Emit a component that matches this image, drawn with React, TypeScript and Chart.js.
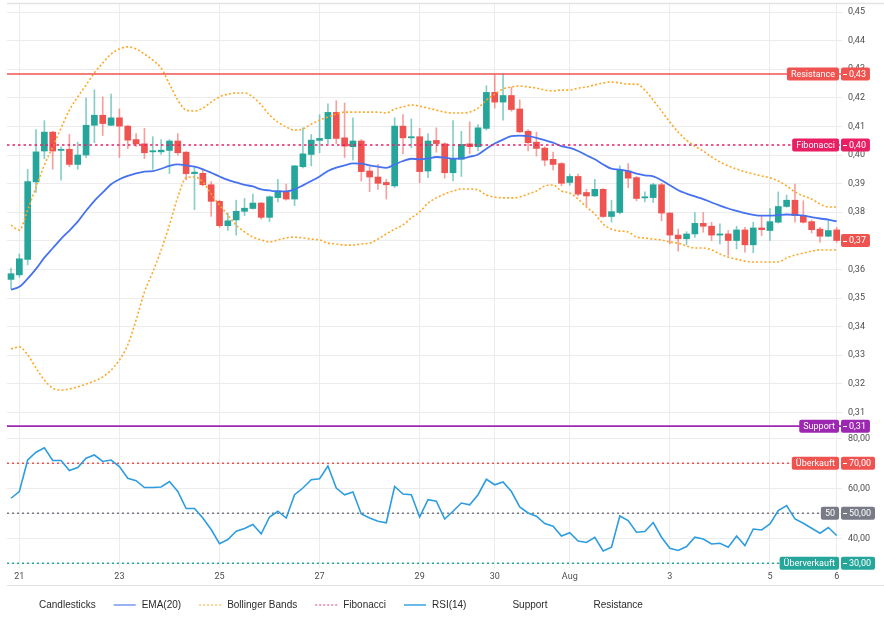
import React, { useEffect, useRef } from 'react';
import { Chart, registerables } from 'chart.js';

Chart.register(...registerables);

// ---------- data ----------
const opens = [
  0.3565, 0.3581, 0.3635, 0.3906, 0.4014, 0.4080, 0.4016, 0.4020, 0.3967, 0.4000,
  0.4104, 0.4139, 0.4104, 0.4130, 0.4101, 0.4054, 0.4039, 0.4011, 0.4011, 0.4016,
  0.4049, 0.4010, 0.3935, 0.3936, 0.3896, 0.3838, 0.3753, 0.3773, 0.3803, 0.3813,
  0.3832, 0.3782, 0.3851, 0.3872, 0.3846, 0.3959, 0.4002, 0.4051, 0.4057, 0.4149,
  0.4060, 0.4029, 0.4049, 0.3944, 0.3923, 0.3904, 0.3892, 0.4101, 0.4060, 0.4064,
  0.3944, 0.4051, 0.4039, 0.3938, 0.3985, 0.4039, 0.4029, 0.4093, 0.4219, 0.4185,
  0.4208, 0.4161, 0.4083, 0.4045, 0.4024, 0.3985, 0.3970, 0.3904, 0.3925, 0.3869,
  0.3857, 0.3880, 0.3785, 0.3799, 0.3944, 0.3921, 0.3850, 0.3851, 0.3896, 0.3797,
  0.3720, 0.3707, 0.3724, 0.3761, 0.3751, 0.3720, 0.3724, 0.3701, 0.3738, 0.3686,
  0.3745, 0.3736, 0.3765, 0.3820, 0.3842, 0.3788, 0.3767, 0.3741, 0.3716, 0.3738,
];
const highs = [
  0.3605, 0.3654, 0.3950, 0.4089, 0.4120, 0.4083, 0.4029, 0.4072, 0.4045, 0.4199,
  0.4228, 0.4203, 0.4213, 0.4161, 0.4104, 0.4075, 0.4093, 0.4064, 0.4054, 0.4054,
  0.4075, 0.4012, 0.3956, 0.3952, 0.3907, 0.3842, 0.3797, 0.3842, 0.3848, 0.3863,
  0.3834, 0.3857, 0.3915, 0.3898, 0.3964, 0.4095, 0.4072, 0.4141, 0.4179, 0.4190,
  0.4182, 0.4130, 0.4054, 0.3959, 0.3967, 0.3915, 0.4130, 0.4141, 0.4126, 0.4093,
  0.4075, 0.4095, 0.4043, 0.4120, 0.4083, 0.4116, 0.4106, 0.4242, 0.4280, 0.4285,
  0.4237, 0.4193, 0.4089, 0.4080, 0.4029, 0.4010, 0.3973, 0.3933, 0.3933, 0.3880,
  0.3915, 0.3883, 0.3842, 0.3962, 0.3970, 0.3925, 0.3871, 0.3901, 0.3901, 0.3799,
  0.3741, 0.3732, 0.3799, 0.3799, 0.3765, 0.3759, 0.3736, 0.3751, 0.3747, 0.3765,
  0.3788, 0.3813, 0.3871, 0.3860, 0.3898, 0.3840, 0.3773, 0.3747, 0.3774, 0.3747,
];
const lows = [
  0.3533, 0.3573, 0.3616, 0.3869, 0.3987, 0.3950, 0.3912, 0.3959, 0.3950, 0.3991,
  0.4043, 0.4068, 0.4103, 0.3991, 0.4022, 0.4029, 0.3987, 0.3950, 0.4002, 0.3935,
  0.3999, 0.3913, 0.3809, 0.3892, 0.3785, 0.3747, 0.3736, 0.3720, 0.3788, 0.3811,
  0.3776, 0.3767, 0.3836, 0.3842, 0.3823, 0.3955, 0.3962, 0.4008, 0.4040, 0.4040,
  0.3991, 0.3982, 0.3909, 0.3872, 0.3880, 0.3846, 0.3886, 0.4004, 0.4025, 0.3903,
  0.3921, 0.4010, 0.3919, 0.3909, 0.3925, 0.4004, 0.4014, 0.4087, 0.4164, 0.4122,
  0.4153, 0.4078, 0.4014, 0.3996, 0.3962, 0.3948, 0.3892, 0.3894, 0.3857, 0.3823,
  0.3855, 0.3782, 0.3765, 0.3794, 0.3886, 0.3840, 0.3836, 0.3834, 0.3770, 0.3689,
  0.3664, 0.3686, 0.3712, 0.3730, 0.3701, 0.3689, 0.3649, 0.3672, 0.3660, 0.3658,
  0.3718, 0.3701, 0.3762, 0.3817, 0.3765, 0.3762, 0.3727, 0.3695, 0.3714, 0.3695,
];
const closes = [
  0.3585, 0.3637, 0.3907, 0.4011, 0.4080, 0.4014, 0.4020, 0.3967, 0.4000, 0.4104,
  0.4139, 0.4110, 0.4130, 0.4101, 0.4052, 0.4039, 0.4008, 0.4015, 0.4017, 0.4049,
  0.4008, 0.3935, 0.3940, 0.3896, 0.3838, 0.3753, 0.3770, 0.3803, 0.3814, 0.3832,
  0.3782, 0.3854, 0.3875, 0.3846, 0.3962, 0.4004, 0.4052, 0.4058, 0.4149, 0.4058,
  0.4031, 0.4049, 0.3942, 0.3923, 0.3901, 0.3896, 0.4101, 0.4060, 0.4064, 0.3942,
  0.4049, 0.4040, 0.3938, 0.3985, 0.4037, 0.4029, 0.4095, 0.4219, 0.4185, 0.4208,
  0.4159, 0.4081, 0.4043, 0.4023, 0.3982, 0.3967, 0.3901, 0.3925, 0.3863, 0.3857,
  0.3880, 0.3785, 0.3802, 0.3948, 0.3919, 0.3848, 0.3854, 0.3896, 0.3797, 0.3720,
  0.3707, 0.3724, 0.3761, 0.3751, 0.3720, 0.3724, 0.3701, 0.3738, 0.3686, 0.3745,
  0.3739, 0.3767, 0.3820, 0.3842, 0.3788, 0.3765, 0.3739, 0.3716, 0.3736, 0.3701,
];
const ema20 = [
  0.3529, 0.3539, 0.3568, 0.3602, 0.3641, 0.3674, 0.3707, 0.3736, 0.3767, 0.3805,
  0.3840, 0.3869, 0.3898, 0.3915, 0.3927, 0.3936, 0.3942, 0.3944, 0.3952, 0.3962,
  0.3967, 0.3964, 0.3959, 0.3950, 0.3938, 0.3925, 0.3913, 0.3904, 0.3896, 0.3890,
  0.3880, 0.3876, 0.3873, 0.3873, 0.3880, 0.3894, 0.3909, 0.3925, 0.3944, 0.3956,
  0.3964, 0.3971, 0.3970, 0.3964, 0.3959, 0.3955, 0.3967, 0.3979, 0.3987, 0.3985,
  0.3988, 0.3993, 0.3991, 0.3987, 0.3988, 0.3994, 0.4002, 0.4022, 0.4040, 0.4054,
  0.4066, 0.4068, 0.4066, 0.4060, 0.4052, 0.4043, 0.4031, 0.4025, 0.4014, 0.3999,
  0.3985, 0.3967, 0.3952, 0.3949, 0.3944, 0.3935, 0.3929, 0.3925, 0.3912, 0.3894,
  0.3877, 0.3865, 0.3855, 0.3846, 0.3834, 0.3823, 0.3813, 0.3805, 0.3797, 0.3791,
  0.3788, 0.3788, 0.3790, 0.3792, 0.3791, 0.3788, 0.3783, 0.3778, 0.3774, 0.3768,
];
const bbUpper = [
  0.3755, 0.3738, 0.3808, 0.3888, 0.3965, 0.4028, 0.4094, 0.4157, 0.4203, 0.4245,
  0.4287, 0.4322, 0.4353, 0.4371, 0.4378, 0.4371, 0.4353, 0.4332, 0.4304, 0.4248,
  0.4192, 0.4157, 0.4154, 0.4164, 0.4185, 0.4203, 0.4213, 0.4217, 0.4217, 0.4203,
  0.4175, 0.4140, 0.4115, 0.4098, 0.4087, 0.4091, 0.4108, 0.4122, 0.4133, 0.4143,
  0.4150, 0.4150, 0.4150, 0.4150, 0.4150, 0.4147, 0.4161, 0.4168, 0.4175, 0.4171,
  0.4164, 0.4157, 0.4150, 0.4147, 0.4147, 0.4150, 0.4164, 0.4192, 0.4213, 0.4231,
  0.4238, 0.4241, 0.4238, 0.4234, 0.4227, 0.4224, 0.4227, 0.4227, 0.4234, 0.4238,
  0.4245, 0.4252, 0.4255, 0.4252, 0.4248, 0.4248, 0.4227, 0.4192, 0.4154, 0.4115,
  0.4080, 0.4052, 0.4031, 0.4014, 0.3993, 0.3976, 0.3962, 0.3951, 0.3941, 0.3934,
  0.3927, 0.3920, 0.3909, 0.3892, 0.3871, 0.3857, 0.3846, 0.3829, 0.3818, 0.3818,
];
const bbLower = [
  0.3322, 0.3329, 0.3301, 0.3255, 0.3213, 0.3185, 0.3178, 0.3182, 0.3189, 0.3199,
  0.3210, 0.3224, 0.3248, 0.3283, 0.3336, 0.3423, 0.3521, 0.3591, 0.3668, 0.3755,
  0.3853, 0.3920, 0.3923, 0.3906, 0.3864, 0.3825, 0.3790, 0.3755, 0.3731, 0.3713,
  0.3703, 0.3696, 0.3703, 0.3710, 0.3713, 0.3710, 0.3706, 0.3703, 0.3692, 0.3689,
  0.3685, 0.3685, 0.3689, 0.3692, 0.3706, 0.3724, 0.3741, 0.3755, 0.3780, 0.3801,
  0.3832, 0.3850, 0.3864, 0.3874, 0.3881, 0.3881, 0.3878, 0.3860, 0.3853, 0.3850,
  0.3850, 0.3853, 0.3864, 0.3874, 0.3892, 0.3895, 0.3874, 0.3867, 0.3846, 0.3818,
  0.3794, 0.3759, 0.3741, 0.3734, 0.3731, 0.3713, 0.3710, 0.3706, 0.3703, 0.3696,
  0.3692, 0.3682, 0.3675, 0.3675, 0.3668, 0.3654, 0.3643, 0.3636, 0.3629, 0.3626,
  0.3626, 0.3626, 0.3626, 0.3640, 0.3650, 0.3657, 0.3664, 0.3668, 0.3668, 0.3668,
];
const rsi14 = [
  56.0, 58.7, 71.3, 74.4, 76.2, 71.1, 71.1, 67.1, 68.3, 72.0,
  73.3, 70.7, 71.3, 68.7, 64.0, 63.0, 60.3, 60.3, 60.5, 62.7,
  58.7, 51.9, 51.9, 48.1, 43.5, 37.8, 39.5, 42.8, 43.9, 45.5,
  41.8, 48.5, 50.8, 48.1, 57.4, 60.1, 63.4, 63.8, 68.9, 60.1,
  57.4, 58.5, 49.7, 48.1, 46.8, 46.2, 60.7, 57.7, 57.4, 48.5,
  55.4, 54.8, 47.7, 50.8, 54.1, 53.4, 57.4, 63.6, 61.4, 62.5,
  58.7, 52.5, 50.1, 48.8, 45.9, 44.8, 40.9, 42.2, 38.9, 38.3,
  40.4, 34.9, 36.4, 48.9, 47.1, 42.4, 42.7, 46.3, 40.4, 36.0,
  35.1, 36.7, 40.4, 39.7, 37.7, 38.0, 36.4, 40.9, 37.1, 43.7,
  43.3, 45.7, 51.1, 53.1, 47.7, 46.0, 44.0, 42.0, 44.3, 41.1,
];
const timeTickIndex = [1, 13, 25, 37, 49, 58, 67, 79, 91, 99];
const timeTickLabels = ['21', '23', '25', '27', '29', '30', 'Aug', '3', '5', '6'];

const resistanceLevel = 0.4283;
const fibonacciLevel = 0.4035;
const supportLevel = 0.3052;
const rsiOverbought = 70;
const rsiMiddle = 50;
const rsiOversold = 30;

// ---------- view ranges / styles ----------
const X_MIN = -0.48;
const X_MAX = 99.64;
const PRICE_MIN = 0.3035;
const PRICE_MAX = 0.4528;
const RSI_MIN = 28.1;
const RSI_MAX = 82.9;

const UP = '#26a69a';
const DOWN = '#ef5350';
const UP_WICK = 'rgba(38,166,154,0.55)';
const DOWN_WICK = 'rgba(239,83,80,0.55)';
const EMA_COLOR = '#4672f0';
const BB_COLOR = '#ffa726';
const FIB_COLOR = 'rgba(233,30,99,0.75)';
const FIB_TAG = '#e91e63';
const RES_COLOR = 'rgba(239,83,80,0.75)';
const SUP_COLOR = '#9c27b0';
const RSI_COLOR = '#2d9de0';
const MID_COLOR = '#787b86';
const GRID = '#ececec';
const AXIS_TEXT = '#4d4d4d';
const AXIS_FONT = 'Roboto, "Liberation Sans", Arial, sans-serif';
const LEGEND_FONT = '"Liberation Sans", Arial, Helvetica, sans-serif';

const fmt = (v: number) => Number(v).toFixed(2).replace('.', ',');

const idx = closes.map((_, i) => i);
const isUp = (i: number) => closes[i] >= opens[i];

const hline = (label: string, v: number, color: string, width: number, dash: number[], axis: string, order: number) => ({
  type: 'line' as const,
  label,
  data: [{ x: X_MIN, y: v }, { x: X_MAX, y: v }],
  borderColor: color,
  borderWidth: width,
  borderDash: dash,
  pointRadius: 0,
  yAxisID: axis,
  order,
});

const tags = [
  { axis: 'y', value: resistanceLevel, name: 'Resistance', color: DOWN },
  { axis: 'y', value: fibonacciLevel, name: 'Fibonacci', color: FIB_TAG },
  { axis: 'y', value: supportLevel, name: 'Support', color: SUP_COLOR },
  { axis: 'y', value: closes[closes.length - 1], name: '', color: isUp(closes.length - 1) ? UP : DOWN },
  { axis: 'y2', value: rsiOverbought, name: 'Überkauft', color: DOWN },
  { axis: 'y2', value: rsiMiddle, name: '50', color: MID_COLOR },
  { axis: 'y2', value: rsiOversold, name: 'Überverkauft', color: UP },
];

const legendItems = [
  { label: 'Candlesticks', color: '', dash: [] as number[] },
  { label: 'EMA(20)', color: 'rgba(70,114,240,0.55)', dash: [] as number[] },
  { label: 'Bollinger Bands', color: 'rgba(255,167,38,0.5)', dash: [2, 2] },
  { label: 'Fibonacci', color: 'rgba(233,30,99,0.45)', dash: [2, 2] },
  { label: 'RSI(14)', color: 'rgba(45,157,224,0.7)', dash: [] as number[] },
  { label: 'Support', color: '', dash: [] as number[] },
  { label: 'Resistance', color: '', dash: [] as number[] },
];

function roundRect(ctx: CanvasRenderingContext2D, x: number, y: number, w: number, h: number, r: number) {
  ctx.beginPath();
  ctx.moveTo(x + r, y);
  ctx.lineTo(x + w - r, y);
  ctx.quadraticCurveTo(x + w, y, x + w, y + r);
  ctx.lineTo(x + w, y + h - r);
  ctx.quadraticCurveTo(x + w, y + h, x + w - r, y + h);
  ctx.lineTo(x + r, y + h);
  ctx.quadraticCurveTo(x, y + h, x, y + h - r);
  ctx.lineTo(x, y + r);
  ctx.quadraticCurveTo(x, y, x + r, y);
  ctx.closePath();
}

const framePlugin = {
  id: 'frame',
  beforeDraw(chart: any) {
    const ctx = chart.ctx as CanvasRenderingContext2D;
    ctx.save();
    ctx.fillStyle = '#ffffff';
    ctx.fillRect(0, 0, chart.width, chart.height);
    ctx.restore();
  },
  afterDraw(chart: any) {
    const ctx = chart.ctx as CanvasRenderingContext2D;
    const area = chart.chartArea;
    const xs = chart.scales.x;
    ctx.save();
    ctx.strokeStyle = '#e3e3e3';
    ctx.lineWidth = 1.5;
    ctx.beginPath();
    ctx.moveTo(area.left, area.top - 0.5);
    ctx.lineTo(chart.width, area.top - 0.5);
    ctx.stroke();
    ctx.strokeStyle = '#e0e0e0';
    ctx.lineWidth = 1;
    ctx.beginPath();
    ctx.moveTo(area.left, Math.round(xs.bottom) + 0.5);
    ctx.lineTo(chart.width, Math.round(xs.bottom) + 0.5);
    ctx.stroke();

    // axis tags
    ctx.font = `9px ${AXIS_FONT}`;
    ctx.textBaseline = 'middle';
    const h = 13;
    for (const t of tags) {
      const y = chart.scales[t.axis].getPixelForValue(t.value);
      if (t.name) {
        const w = ctx.measureText(t.name).width;
        const right = area.right - 3;
        const left = right - w - 8;
        ctx.fillStyle = t.color;
        roundRect(ctx, left, y - h / 2, right - left, h, 2);
        ctx.fill();
        ctx.fillStyle = '#ffffff';
        ctx.textAlign = 'center';
        ctx.fillText(t.name, (left + right) / 2, y + 0.5);
      }
      const txt = fmt(t.value);
      const tw = ctx.measureText(txt).width;
      const left = area.right - 1;
      const width = 8 + tw + 4;
      ctx.fillStyle = t.color;
      roundRect(ctx, left, y - h / 2, width, h, 2);
      ctx.fill();
      ctx.strokeStyle = '#ffffff';
      ctx.lineWidth = 1;
      ctx.beginPath();
      ctx.moveTo(left + 2, Math.round(y) + 0.5);
      ctx.lineTo(left + 6, Math.round(y) + 0.5);
      ctx.stroke();
      ctx.fillStyle = '#ffffff';
      ctx.textAlign = 'left';
      ctx.fillText(txt, left + 8, y + 0.5);
    }

    // legend
    ctx.font = `10px ${LEGEND_FONT}`;
    ctx.textAlign = 'left';
    ctx.textBaseline = 'middle';
    const ly = chart.height - 15;
    let x = 11;
    for (const it of legendItems) {
      if (it.color) {
        ctx.strokeStyle = it.color;
        ctx.lineWidth = 2;
        ctx.setLineDash(it.dash);
        ctx.beginPath();
        ctx.moveTo(x, ly);
        ctx.lineTo(x + 22, ly);
        ctx.stroke();
        ctx.setLineDash([]);
      }
      ctx.fillStyle = '#2b2b2b';
      ctx.fillText(it.label, x + 28, ly);
      x += 28 + ctx.measureText(it.label).width + 18;
    }
    ctx.restore();
  },
};

export default function App() {
  const ref = useRef<HTMLCanvasElement>(null);

  useEffect(() => {
    const canvas = ref.current;
    if (!canvas) return;

    const datasets: any[] = [
      {
        type: 'bar',
        label: 'wicks',
        data: idx.map((i) => ({ x: i, y: [lows[i], highs[i]] })),
        backgroundColor: idx.map((i) => (isUp(i) ? UP_WICK : DOWN_WICK)),
        barThickness: 1,
        grouped: false,
        borderWidth: 0,
        yAxisID: 'y',
        order: 20,
      },
      {
        type: 'bar',
        label: 'bodies',
        data: idx.map((i) => ({ x: i, y: [Math.min(opens[i], closes[i]), Math.max(opens[i], closes[i])] })),
        backgroundColor: idx.map((i) => (isUp(i) ? UP : DOWN)),
        barThickness: 6,
        minBarLength: 1,
        grouped: false,
        borderWidth: 0,
        yAxisID: 'y',
        order: 19,
      },
      {
        type: 'line',
        label: 'BB upper',
        data: idx.map((i) => ({ x: i, y: bbUpper[i] })),
        borderColor: BB_COLOR,
        borderWidth: 1.6,
        borderDash: [2, 2.2],
        pointRadius: 0,
        cubicInterpolationMode: 'monotone',
        yAxisID: 'y',
        order: 6,
      },
      {
        type: 'line',
        label: 'BB lower',
        data: idx.map((i) => ({ x: i, y: bbLower[i] })),
        borderColor: BB_COLOR,
        borderWidth: 1.6,
        borderDash: [2, 2.2],
        pointRadius: 0,
        cubicInterpolationMode: 'monotone',
        yAxisID: 'y',
        order: 6,
      },
      {
        type: 'line',
        label: 'EMA(20)',
        data: idx.map((i) => ({ x: i, y: ema20[i] })),
        borderColor: EMA_COLOR,
        borderWidth: 1.8,
        pointRadius: 0,
        cubicInterpolationMode: 'monotone',
        yAxisID: 'y',
        order: 5,
      },
      hline('Fibonacci', fibonacciLevel, FIB_COLOR, 2, [2.5, 3], 'y', 4),
      hline('Resistance', resistanceLevel, RES_COLOR, 2, [], 'y', 4),
      hline('Support', supportLevel, SUP_COLOR, 1.6, [], 'y', 4),
      hline('Überkauft', rsiOverbought, DOWN, 1.5, [2, 3], 'y2', 4),
      hline('50', rsiMiddle, MID_COLOR, 1.5, [2, 3], 'y2', 4),
      hline('Überverkauft', rsiOversold, UP, 1.5, [2, 3], 'y2', 4),
      {
        type: 'line',
        label: 'RSI(14)',
        data: idx.map((i) => ({ x: i, y: rsi14[i] })),
        borderColor: RSI_COLOR,
        borderWidth: 1.6,
        pointRadius: 0,
        tension: 0,
        yAxisID: 'y2',
        order: 3,
      },
    ];

    const tickFont = { family: AXIS_FONT, size: 9 };
    const fitY = (s: any) => {
      s.width = 42;
      s.paddingTop = 0;
      s.paddingBottom = 0;
    };

    const chart = new Chart(canvas, {
      type: 'line',
      data: { datasets },
      plugins: [framePlugin],
      options: {
        responsive: false,
        animation: false,
        events: [],
        layout: { padding: { top: 4, left: 7, right: 0, bottom: 35 } },
        plugins: {
          legend: { display: false },
          tooltip: { enabled: false },
        },
        scales: {
          x: {
            type: 'linear',
            min: X_MIN,
            max: X_MAX,
            offset: false,
            grid: { color: GRID, drawTicks: false, offset: false },
            border: { display: false },
            afterBuildTicks: (s: any) => {
              s.ticks = timeTickIndex.map((v) => ({ value: v }));
            },
            afterFit: (s: any) => {
              s.height = 17;
              s.paddingLeft = 0;
              s.paddingRight = 0;
            },
            ticks: {
              autoSkip: false,
              maxRotation: 0,
              padding: 3,
              color: AXIS_TEXT,
              font: tickFont,
              callback: (v: any) => {
                const k = timeTickIndex.indexOf(Number(v));
                return k >= 0 ? timeTickLabels[k] : '';
              },
            },
          },
          y: {
            type: 'linear',
            position: 'right',
            stack: 'panes',
            stackWeight: 427,
            min: PRICE_MIN,
            max: PRICE_MAX,
            grid: { color: GRID, drawTicks: false },
            border: { display: false },
            afterFit: fitY,
            ticks: {
              stepSize: 0.01,
              includeBounds: false,
              padding: 6,
              color: AXIS_TEXT,
              font: tickFont,
              autoSkip: false,
              callback: (v: any) => fmt(Number(v)),
            },
          },
          y2: {
            type: 'linear',
            position: 'right',
            stack: 'panes',
            stackWeight: 137,
            min: RSI_MIN,
            max: RSI_MAX,
            grid: { color: GRID, drawTicks: false },
            border: { display: false },
            afterFit: fitY,
            ticks: {
              stepSize: 10,
              includeBounds: false,
              padding: 6,
              color: AXIS_TEXT,
              font: tickFont,
              autoSkip: false,
              callback: (v: any) => fmt(Number(v)),
            },
          },
        },
      } as any,
    });

    return () => chart.destroy();
  }, []);

  return (
    <div style={{ position: 'absolute', left: 0, top: 0, width: 884, height: 620, background: '#ffffff' }}>
      <canvas ref={ref} width={884} height={620} style={{ display: 'block', width: 884, height: 620 }} />
    </div>
  );
}
